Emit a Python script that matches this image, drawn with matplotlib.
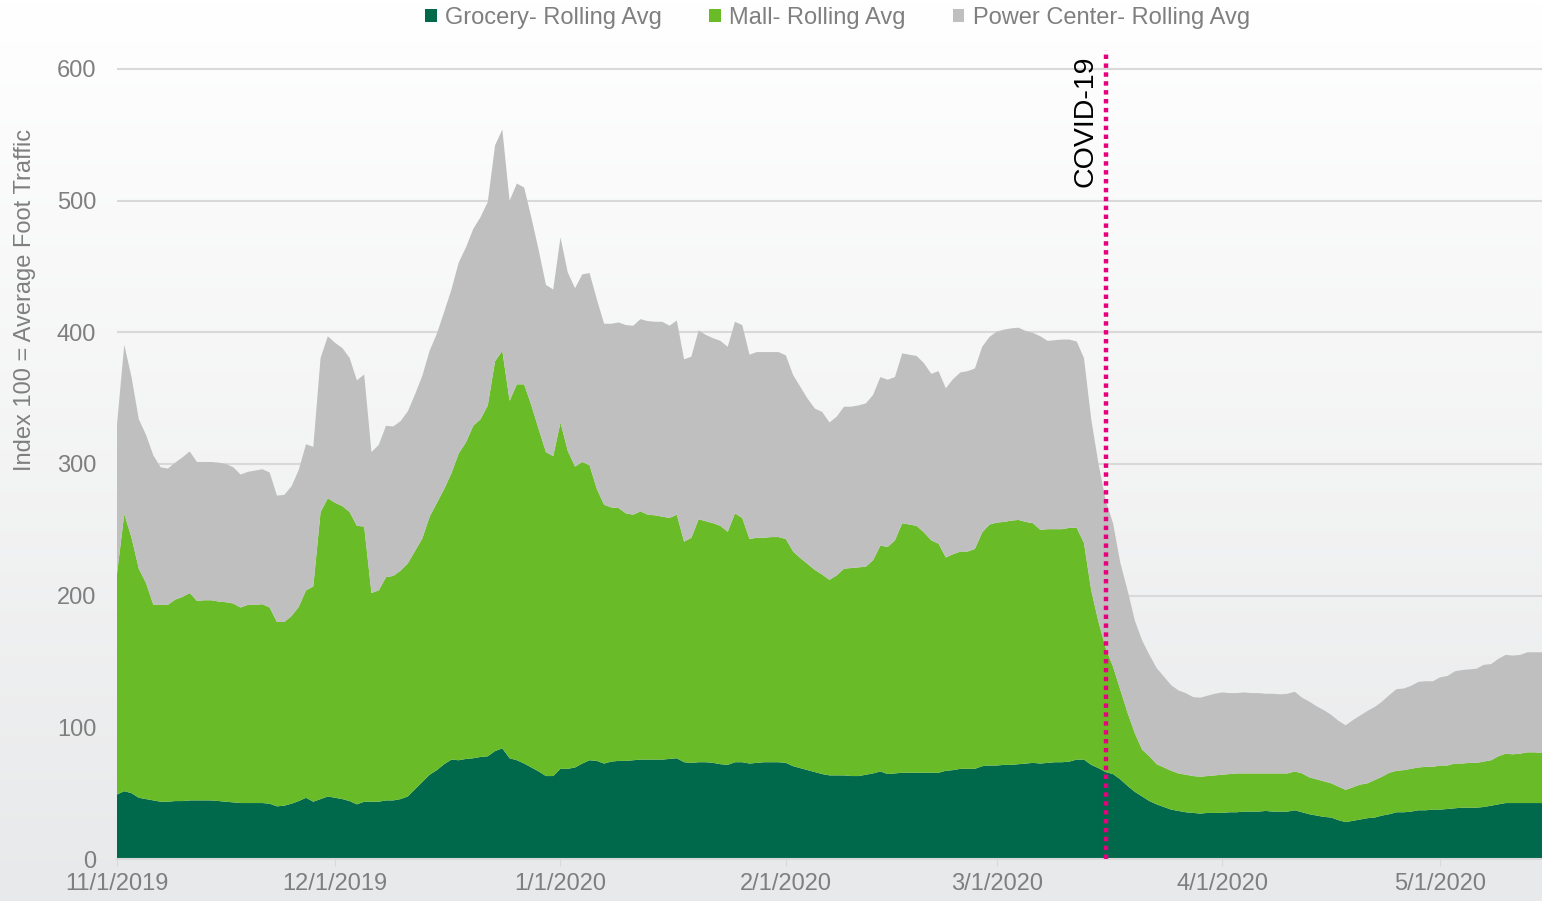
import numpy as np
import pandas as pd
import matplotlib
matplotlib.use("Agg")
import matplotlib.pyplot as plt
import matplotlib.dates as mdates
from matplotlib.colors import LinearSegmentedColormap
from matplotlib.ticker import FuncFormatter

# valores diarios (promedio movil), 1/11/2019 -> 15/5/2020
grocery = [49, 51.5, 50, 46.5, 45.5, 44.5, 43.5, 43.5, 44, 44,
           44.5, 44.5, 44.5, 44.5, 44, 43.5, 43, 42.5, 42.5, 42.5,
           42.5, 42, 40, 40.5, 42, 44, 46.5, 43.5, 45.5, 47.5,
           46.5, 45.5, 44, 41.5, 43.5, 43.5, 43.5, 44.5, 44.5, 45.5,
           47.5, 53, 58.5, 64, 67.5, 72, 75.5, 75, 76, 76.5,
           77.5, 78, 82, 84, 76.5, 75, 72.5, 69.5, 66.5, 63,
           63, 68.5, 68.5, 69.5, 72.5, 75, 74.5, 72.5, 74, 74.5,
           74.5, 75, 75.5, 75.5, 75.5, 75.5, 76, 76.5, 73.5, 73,
           73.5, 73.5, 73, 72, 71.5, 73.5, 73.5, 72.5, 73, 73.5,
           73.5, 73.5, 73, 70.5, 69, 67.5, 66, 64.5, 63.5, 63.5,
           63.5, 63, 63, 64, 65, 66.5, 64.5, 65, 65.5, 65.5,
           65.5, 65.5, 65.5, 65.5, 67, 67.5, 68.5, 68.5, 68.5, 70.5,
           71, 71, 71.5, 71.5, 72, 72.5, 73, 72.5, 73, 73.5,
           73.5, 74, 75.5, 75.5, 71.5, 69, 66, 64.5, 60.5, 55.5,
           51, 47.5, 44, 41.5, 39.5, 37.5, 36.5, 35.5, 35, 34.5,
           35, 35, 35, 35.5, 35.5, 36, 36, 36, 36.5, 36,
           36, 36, 37, 35.5, 34, 33, 32, 31.5, 29.5, 28,
           29, 30, 31, 31.5, 33, 34, 35.5, 35.5, 36, 37,
           37, 37.5, 37.5, 38, 38.5, 39, 39, 39, 39.5, 40.5,
           41.5, 42.5, 42.5, 42.5, 42.5, 42.5, 42.5]

mall = [167.5, 210.5, 194, 174, 164, 148.5, 149.5, 149.5, 153, 155,
        157.5, 151.5, 152, 152, 151.5, 151.5, 151, 148.5, 150.5, 150.5,
        151, 149, 140, 139.5, 142.5, 147.5, 157.5, 163.5, 218, 226.5,
        224, 222.5, 219.5, 211.5, 209, 158.5, 160.5, 169.5, 170.5, 173.5,
        177, 181, 185, 196, 203, 209, 217.5, 233, 240.5, 252.5,
        256.5, 266.5, 296, 302, 271.5, 285.5, 288, 275, 260, 246,
        243, 263, 241.5, 228.5, 229, 224, 206.5, 196.5, 193, 192,
        188, 186.5, 188.5, 186, 185.5, 184.5, 183, 185, 167.5, 171,
        184.5, 183, 182, 181, 177, 189, 185.5, 170.5, 171, 170.5,
        171, 171, 170, 163, 159.5, 156.5, 153.5, 151.5, 148.5, 152,
        157, 158, 158.5, 158, 162, 171.5, 172.5, 177, 189.5, 188.5,
        187.5, 182.5, 176.5, 174, 162, 164, 165, 165, 167, 177.5,
        183, 184.5, 184.5, 185.5, 185.5, 183.5, 182, 177.5, 177.5, 177,
        177, 177.5, 176, 164.5, 132.5, 111, 94, 81.5, 68, 55.5,
        44.5, 35.5, 34, 30.5, 30, 29.5, 28.5, 28.5, 28, 28,
        28, 28.5, 29, 29, 29.5, 29, 29, 29, 28.5, 29,
        29, 29, 29.5, 29.5, 28, 27.5, 27, 26, 25.5, 24.5,
        25.5, 26.5, 26.5, 28.5, 29.5, 31.5, 31.5, 32, 32.5, 32.5,
        33, 32.5, 33.5, 33, 34, 33.5, 34, 34, 34.5, 34.5,
        36.5, 37.5, 37, 37.5, 38.5, 38.5, 38]

power = [113.5, 128.5, 122, 113.5, 112.5, 113.5, 104.5, 103.5, 104, 106,
         107.5, 105.5, 105, 105, 105.5, 105, 103.5, 101, 101, 102,
         102.5, 102.5, 96, 96.5, 98.5, 104, 111, 106, 117, 123,
         121.5, 120, 117, 110.5, 115.5, 107, 110.5, 115, 113.5, 113.5,
         115.5, 119, 123.5, 126, 128.5, 134.5, 139.5, 145, 148, 149.5,
         153.5, 154.5, 164, 168, 152, 152.5, 149.5, 142.5, 136, 127,
         126.5, 140.5, 135.5, 135.5, 142.5, 146, 144, 137.5, 139.5, 141,
         143, 143.5, 146, 147, 147, 148, 146, 147.5, 138.5, 137.5,
         143.5, 141.5, 140.5, 140.5, 140.5, 145.5, 146.5, 140, 141, 141,
         140.5, 140.5, 139.5, 134, 130, 125.5, 122.5, 123.5, 119.5, 120.5,
         123, 122.5, 123, 124, 125.5, 128, 127, 124, 129, 129,
         129, 128.5, 126.5, 131, 128.5, 133, 136, 137, 137, 141,
         142.5, 145, 146, 146, 146, 145, 144.5, 147, 143, 143.5,
         144, 143, 141.5, 140.5, 130, 120, 112, 109, 96.5, 93,
         85.5, 83, 77, 73, 69, 65, 63, 62, 60, 60,
         61, 62, 62.5, 61.5, 61, 61.5, 61, 61, 60.5, 60.5,
         60, 60.5, 60.5, 57.5, 57.5, 55.5, 54, 52, 50, 49,
         51, 52.5, 55, 55.5, 57, 59, 62, 62, 63, 65,
         65, 65, 67, 68, 70, 71, 71, 71.5, 73.5, 73,
         74, 75, 75, 75, 76, 76, 76.5]

series_labels = ["Grocery- Rolling Avg", "Mall- Rolling Avg", "Power Center- Rolling Avg"]
colores = ["#00694b", "#69bc28", "#bfbfbf"]
fecha_covid = "2020-03-16"

fechas = pd.date_range("2019-11-01", periods=len(grocery), freq="D")
gris = "#7f7f7f"

fig = plt.figure(figsize=(15.42, 9.01), dpi=100)

# fondo degradado blanco -> gris claro
fondo = fig.add_axes([0, 0, 1, 1], zorder=-10)
cmap = LinearSegmentedColormap.from_list("fondo", ["#ffffff", "#e8e9ea"])
fondo.imshow(np.linspace(0, 1, 256).reshape(-1, 1), aspect="auto", cmap=cmap,
             extent=[0, 1, 0, 1], origin="upper")
fondo.axis("off")

ax = fig.add_axes([117 / 1542, 42 / 901, 1 - 117 / 1542, 809 / 901])
ax.patch.set_alpha(0)
ax.stackplot(fechas, grocery, mall, power, colors=colores, labels=series_labels,
             linewidth=0)

ax.set_xlim(fechas[0], fechas[-1])
ax.set_ylim(0, 614.4)
ax.set_yticks(range(0, 700, 100))
ax.grid(axis="y", color="#d9d9d9", lw=1.5)
ax.set_axisbelow(True)

ax.xaxis.set_major_locator(mdates.MonthLocator())
ax.xaxis.set_major_formatter(FuncFormatter(
    lambda x, pos: "{d.month}/{d.day}/{d.year}".format(d=mdates.num2date(x))))

for lado in ["top", "right", "left"]:
    ax.spines[lado].set_visible(False)
ax.spines["bottom"].set_color("#d9d9d9")
ax.spines["bottom"].set_linewidth(1.5)

ax.tick_params(axis="x", length=5, color="#d9d9d9", labelcolor=gris, labelsize=17, pad=5)
ax.tick_params(axis="y", length=0, labelcolor=gris, labelsize=17, pad=15)
for t in ax.get_xticklabels() + ax.get_yticklabels():
    t.set_fontfamily("Liberation Sans")

# linea COVID-19
covid = pd.Timestamp(fecha_covid)
ax.axvline(covid, color="#e6007e", ls=(0, (1, 1)), lw=3.2, zorder=5)
ax.annotate("COVID-19", xy=(covid, 610), xytext=(-5, 0), textcoords="offset points",
            rotation=90, ha="right", va="top", fontsize=20.5, color="black",
            family="Liberation Sans")

fig.text(25 / 1542, 1 - 300 / 901, "Index 100 = Average Foot Traffic", rotation=90,
         ha="center", va="center", fontsize=17, color=gris, family="Liberation Sans")

leg = fig.legend(loc="center", bbox_to_anchor=(0.543, 1 - 18 / 901), ncol=3, frameon=False,
                 handlelength=0.5, handleheight=0.5, handletextpad=0.35,
                 columnspacing=2.0, prop={"family": "Liberation Sans", "size": 17})
for t in leg.get_texts():
    t.set_color(gris)

fig.savefig("out.png", dpi=100)
